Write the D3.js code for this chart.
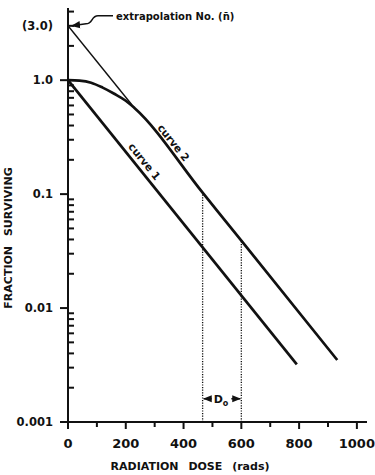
<!DOCTYPE html>
<html>
<head>
<meta charset="utf-8">
<script src="https://cdn.jsdelivr.net/npm/d3@7"></script>
<style>
  body { margin: 0; background: #fff; }
  svg text { font-family: "DejaVu Sans", sans-serif; font-weight: bold; fill: #111; }
</style>
</head>
<body>
<div id="graph"></div>
<script>
// Chart data (dose in rads, fraction surviving)
const curve1Dose = [0, 792];
const curve1Surv = [1.0, 0.0032];

const curve2Dose = [0, 40, 80, 120, 160, 200, 230, 466, 600, 932];
const curve2Surv = [1.0, 0.99, 0.95, 0.86, 0.76, 0.66, 0.57, 0.103, 0.039, 0.0035];

const extrapDose = [0, 230];
const extrapSurv = [3.0, 0.57];

// dotted lines for D0
const markDose = [466, 600];
const markSurv = [0.103, 0.039];

// label anchors on the curves
const labelText = ["curve 1", "curve 2"];
const labelDose = [241, 342];
const labelSurv = [0.173, 0.253];

// tick labels
const xMajor = [0, 200, 400, 600, 800, 1000];
const xMinor = [100, 300, 500, 700, 900];
const yMajor = [0.001, 0.01, 0.1, 1.0];
const yLabelVals = [0.001, 0.01, 0.1, 1.0, 3.0];
const yLabels = ["0.001", "0.01", "0.1", "1.0", "(3.0)"];
const yMinor = [0.002, 0.003, 0.004, 0.005, 0.006, 0.007, 0.008, 0.009,
                0.02, 0.03, 0.04, 0.05, 0.06, 0.07, 0.08, 0.09,
                0.2, 0.3, 0.4, 0.5, 0.6, 0.7, 0.8, 0.9,
                2, 3, 4];

const w = 375;
const h = 475;

const svg = d3.select("#graph")
              .append("svg")
              .attr("width", w)
              .attr("height", h);

const xScale = d3.scaleLinear().domain([0, 1035]).range([68, 367]);
const yScale = d3.scaleLog().domain([0.001, 4.3]).range([422, 8]);

const x0 = xScale(0);
const y0 = yScale(0.001);

// axis lines
svg.append("line")
   .attr("x1", x0).attr("x2", xScale(1035))
   .attr("y1", y0).attr("y2", y0)
   .attr("stroke", "#111").attr("stroke-width", 2);
svg.append("line")
   .attr("x1", x0).attr("x2", x0)
   .attr("y1", y0 + 1).attr("y2", yScale(4.3))
   .attr("stroke", "#111").attr("stroke-width", 2);

// ticks (major = longer)
svg.selectAll(".xtick")
   .data(xMajor.concat(xMinor))
   .enter()
   .append("line")
   .attr("x1", d => xScale(d))
   .attr("x2", d => xScale(d))
   .attr("y1", y0)
   .attr("y2", d => y0 + (xMajor.includes(d) ? 7 : 5))
   .attr("stroke", "#111")
   .attr("stroke-width", 2);

svg.selectAll(".ymaj")
   .data(yMajor)
   .enter()
   .append("line")
   .attr("x1", x0 - 8)
   .attr("x2", x0)
   .attr("y1", d => yScale(d))
   .attr("y2", d => yScale(d))
   .attr("stroke", "#111")
   .attr("stroke-width", 2);

svg.selectAll(".ymin")
   .data(yMinor)
   .enter()
   .append("line")
   .attr("x1", x0)
   .attr("x2", x0 + 6)
   .attr("y1", d => yScale(d))
   .attr("y2", d => yScale(d))
   .attr("stroke", "#111")
   .attr("stroke-width", 2);

// tick labels
svg.selectAll(".xlab")
   .data(xMajor)
   .enter()
   .append("text")
   .attr("x", d => xScale(d))
   .attr("y", 448)
   .attr("text-anchor", "middle")
   .attr("font-size", 13)
   .text(d => d);

svg.selectAll(".ylab")
   .data(yLabelVals)
   .enter()
   .append("text")
   .attr("x", 53)
   .attr("y", d => yScale(d) + 4)
   .attr("text-anchor", "end")
   .attr("font-size", 11.5)
   .text((d, i) => yLabels[i]);

// axis titles
svg.append("text")
   .attr("x", 190)
   .attr("y", 470)
   .attr("text-anchor", "middle")
   .attr("font-size", 11)
   .attr("word-spacing", 6)
   .text("RADIATION DOSE (rads)");

svg.append("text")
   .attr("transform", "translate(12,238) rotate(-90)")
   .attr("text-anchor", "middle")
   .attr("font-size", 11)
   .attr("word-spacing", 6)
   .text("FRACTION SURVIVING");

// lines
const line = d3.line()
               .x(d => xScale(d[0]))
               .y(d => yScale(d[1]));

svg.append("path")
   .datum(d3.zip(extrapDose, extrapSurv))
   .attr("d", line)
   .attr("fill", "none")
   .attr("stroke", "#111")
   .attr("stroke-width", 1.4);

svg.append("path")
   .datum(d3.zip(curve1Dose, curve1Surv))
   .attr("d", line)
   .attr("fill", "none")
   .attr("stroke", "#111")
   .attr("stroke-width", 2.7);

svg.append("path")
   .datum(d3.zip(curve2Dose, curve2Surv))
   .attr("d", line.curve(d3.curveMonotoneX))
   .attr("fill", "none")
   .attr("stroke", "#111")
   .attr("stroke-width", 2.7);

// dotted D0 lines
svg.selectAll(".mark")
   .data(markDose)
   .enter()
   .append("line")
   .attr("x1", d => xScale(d))
   .attr("x2", d => xScale(d))
   .attr("y1", y0)
   .attr("y2", (d, i) => yScale(markSurv[i]))
   .attr("stroke", "#111")
   .attr("stroke-width", 1.3)
   .attr("stroke-dasharray", "1.2,1.4");

// arrow markers
const defs = svg.append("defs");
defs.append("marker")
    .attr("id", "arr")
    .attr("viewBox", "0 0 10 10")
    .attr("refX", 9).attr("refY", 5)
    .attr("markerWidth", 6).attr("markerHeight", 6)
    .attr("orient", "auto-start-reverse")
    .append("path")
    .attr("d", "M0,1 L10,5 L0,9 z")
    .attr("fill", "#111");

// D0 annotation
const dy0 = yScale(0.0016);
svg.append("line")
   .attr("x1", xScale(markDose[0]) + 1).attr("x2", xScale(markDose[0]) + 9)
   .attr("y1", dy0).attr("y2", dy0)
   .attr("stroke", "#111").attr("stroke-width", 1.5)
   .attr("marker-start", "url(#arr)");
svg.append("line")
   .attr("x1", xScale(markDose[1]) - 10).attr("x2", xScale(markDose[1]) - 1)
   .attr("y1", dy0).attr("y2", dy0)
   .attr("stroke", "#111").attr("stroke-width", 1.5)
   .attr("marker-end", "url(#arr)");
const d0 = svg.append("text")
   .attr("x", (xScale(markDose[0]) + xScale(markDose[1])) / 2 - 1)
   .attr("y", dy0 + 4)
   .attr("text-anchor", "middle")
   .attr("font-size", 11);
d0.append("tspan").text("D");
d0.append("tspan").attr("font-size", 8).attr("dy", 3).text("o");

// curve labels
const ang = Math.atan2(yScale(curve1Surv[1]) - yScale(curve1Surv[0]),
                       xScale(curve1Dose[1]) - xScale(curve1Dose[0])) * 180 / Math.PI;
svg.selectAll(".clab")
   .data(labelText)
   .enter()
   .append("text")
   .attr("transform", (d, i) => `translate(${xScale(labelDose[i])},${yScale(labelSurv[i])}) rotate(${ang})`)
   .attr("y", -5)
   .attr("text-anchor", "middle")
   .attr("font-size", 10.5)
   .text(d => d);

// extrapolation number annotation
const tx = x0 + 3;
const ty = yScale(3.0);
svg.append("path")
   .attr("d", `M${tx + 42},${ty - 10} L${tx + 27},${ty - 10} C${tx + 20},${ty - 10} ${tx + 22},${ty - 2} ${tx + 15},${ty - 2} L${tx + 1},${ty}`)
   .attr("fill", "none")
   .attr("stroke", "#111")
   .attr("stroke-width", 1.5)
   .attr("marker-end", "url(#arr)");

svg.append("text")
   .attr("x", tx + 45)
   .attr("y", ty - 6)
   .attr("font-size", 10)
   .text("extrapolation No. (n\u0304)");
</script>
</body>
</html>
